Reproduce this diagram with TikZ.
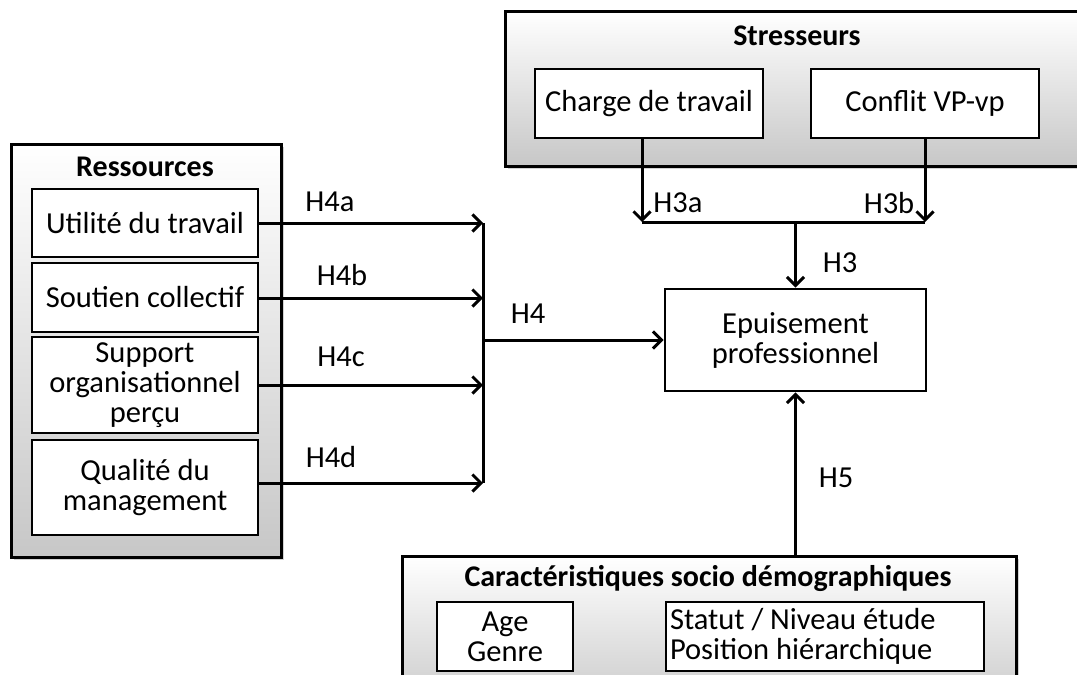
\documentclass[tikz,border=0pt]{standalone}
\usepackage{fontspec}
\setmainfont{Carlito}
\usetikzlibrary{arrows.meta,shadows}
\begin{document}
\begin{tikzpicture}[x=1pt,y=-1pt,
  graybox/.style={draw,line width=2.8pt,top color=white,bottom color=black!22,
    drop shadow={opacity=0.35,shadow xshift=2.5pt,shadow yshift=-2.5pt},
    anchor=north west,inner sep=0pt},
  wbox/.style={draw,line width=2.8pt,fill=white,align=center,inner sep=2pt,
    font=\fontsize{30.5}{30}\selectfont},
  ttl/.style={font=\bfseries\fontsize{30}{30}\selectfont},
  lbl/.style={font=\fontsize{30.5}{30}\selectfont},
  arr/.style={line width=3pt,-{Straight Barb[length=8.5pt,width=17pt,line width=3pt]}},
  ln/.style={line width=3pt}
]
\clip (0,0) rectangle (1077,675);
\fill[white] (0,0) rectangle (1077,675);

% Ressources
\node[graybox,minimum width=270pt,minimum height=413pt] (res) at (10,143) {};
\node[ttl] (resT) at (145,167) {Ressources};
\node[wbox,minimum width=226pt,minimum height=68pt] (u1) at (145,223) {Utilité du travail};
\node[wbox,minimum width=226pt,minimum height=69pt] (u2) at (145,297.5) {Soutien collectif};
\node[wbox,minimum width=226pt,minimum height=96pt] (u3) at (145,385) {Support\\organisationnel\\perçu};
\node[wbox,minimum width=226pt,minimum height=95pt] (u4) at (145,487.5) {Qualité du\\management};

% Stresseurs
\node[graybox,minimum width=590pt,minimum height=155pt] (str) at (504,10) {};
\node[ttl] (strT) at (797,36) {Stresseurs};
\node[wbox,minimum width=228pt,minimum height=69pt] (ch) at (649,103.5) {Charge de travail};
\node[wbox,minimum width=228pt,minimum height=69pt] (cf) at (925,103.5) {Conflit VP-vp};

% Socio
\node[graybox,minimum width=614pt,minimum height=160pt] (soc) at (401,555) {};
\node[ttl] (socT) at (708,578) {Caractéristiques socio démographiques};
\node[wbox,minimum width=136pt,minimum height=69pt] (age) at (505,636.5) {Age\\Genre};
\node[wbox,text width=310pt,align=flush left,inner sep=4pt,minimum height=69pt] (stat) at (825,636.5) {Statut / Niveau étude\\Position hiérarchique};

% Epuisement
\node[wbox,minimum width=261pt,minimum height=102pt] (ep) at (795.5,340) {Epuisement\\professionnel};

% H4 connectors
\coordinate (j1) at (483,223);
\coordinate (j2) at (483,298);
\coordinate (j3) at (483,385);
\coordinate (j4) at (483,483);
\coordinate (jm) at (483,340);
\draw[arr] (u1.east |- j1) -- (j1);
\draw[arr] (u2.east |- j2) -- (j2);
\draw[arr] (u3.east |- j3) -- (j3);
\draw[arr] (u4.east |- j4) -- (j4);
\draw[ln] (j1) -- (j4);
\draw[arr] (jm) -- (ep.west);

% H3 connectors
\coordinate (a1) at (642,222);
\coordinate (b1) at (925,222);
\coordinate (m1) at (795.5,222);
\draw[arr] (ch.south -| a1) -- (a1);
\draw[arr] (cf.south) -- (b1);
\draw[ln] (a1) -- (b1);
\draw[arr] (m1) -- (ep.north);

% H5
\draw[arr] (soc.north -| ep.south) -- (ep.south);

% labels
\node[lbl] (lH4a) at (330,202) {H4a};
\node[lbl] (lH4b) at (342,275) {H4b};
\node[lbl] (lH4c) at (341,357) {H4c};
\node[lbl] (lH4d) at (331,457) {H4d};
\node[lbl] (lH4) at (528,314) {H4};
\node[lbl] (lH3a) at (678,203) {H3a};
\node[lbl] (lH3b) at (889,203) {H3b};
\node[lbl] (lH3) at (840,263) {H3};
\node[lbl] (lH5) at (836,478) {H5};
\end{tikzpicture}
\end{document}
